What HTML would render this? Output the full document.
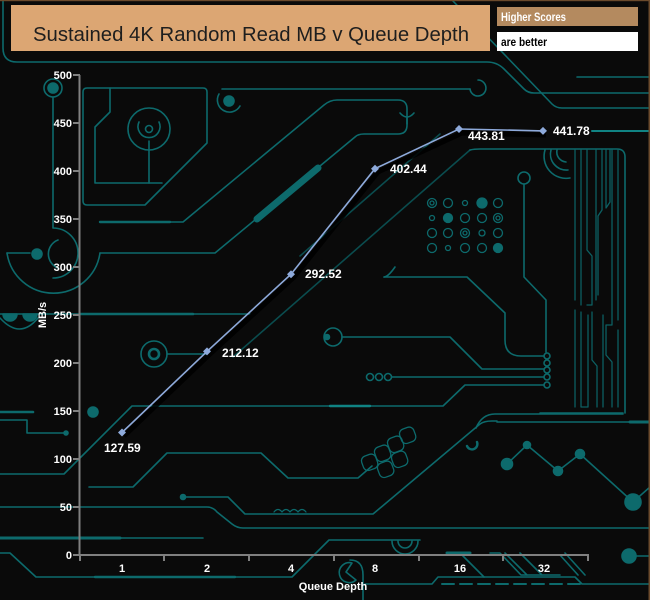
<!DOCTYPE html>
<html><head><meta charset="utf-8"><style>
html,body{margin:0;padding:0;background:#0a0a0a;}
svg{display:block;}
text{font-family:"Liberation Sans",Arial,sans-serif;}
</style></head><body>
<svg xmlns="http://www.w3.org/2000/svg" width="650" height="600" viewBox="0 0 650 600">
<rect width="650" height="600" fill="#0a0a0a"/>
<!-- circuit background -->
<g fill="none" stroke="#0d6a6c" stroke-width="1.6" stroke-linecap="round" stroke-linejoin="round">
 <path d="M3,0 V48 Q3,62 17,62 H487 Q497,62 504,69 L524,89 Q528,93 534,93 H650"/>
 <path d="M452,0 L552,104 Q556,108 562,108 H650"/>
 <path d="M577,77 H650"/>
 <path d="M592,131 H650" stroke="#108383" stroke-width="2"/>
 <!-- left column -->
 <circle cx="53" cy="88" r="9"/>
 <circle cx="53" cy="88" r="5" fill="#0d6a6c"/>
 <path d="M53,97 V228 A25,25 0 0 1 53,278"/>
 <path d="M58,240 A15,15 0 0 0 58,268"/>
 <circle cx="37" cy="254" r="5" fill="#0d6a6c"/>
 <path d="M7,253 A47,47 0 0 0 100,253"/>
 <path d="M7,253 H30"/>
 <path d="M100,253 H215 L355,137 Q358,134 364,134 H398 Q407,134 407,125 V109 Q407,100 398,100 H337 Q330,100 324,105 L183,222 H100"/>
 <path d="M100,222 H170" stroke-width="2.4"/>
 <path d="M257,219 L318,168" stroke-width="7"/>
 <path d="M400,113 Q407,121 414,113 M407,117 V124"/>
 <!-- rect with target -->
 <path d="M87,88 H203 Q207,88 207,92 V143 L145,205 H87 Q83,205 83,201 V92 Q83,88 87,88 Z"/>
 <path d="M110,88 V112 L95,127 V183 H162"/>
 <circle cx="149" cy="129" r="21"/>
 <path d="M139,122 A11,11 0 1 0 159,122"/>
 <circle cx="149" cy="129" r="3.5"/>
 <path d="M149,141 V183"/>
 <!-- icon & line y=89 -->
 <circle cx="229" cy="101" r="5" fill="#0d6a6c"/>
 <path d="M219,94 A12,12 0 1 0 240,106"/>
 <path d="M222,89 H470"/>
 <path d="M470,89 A8,8 0 1 0 478,80"/>
 <!-- left mid -->
 <path d="M0,314 H250"/>
 <path d="M80,314 H193" stroke-width="2.6"/>
 <path d="M3,314 A7,7 0 0 0 17,314 Z M23,314 A7,7 0 0 0 37,314 Z" fill="#0d6a6c"/>
 <path d="M0,318 Q20,340 38,318"/>
 <circle cx="154" cy="354" r="13"/>
 <circle cx="154" cy="354" r="5" stroke-width="2.6"/>
 <path d="M167,354 H207"/>
 <path d="M0,412 H33" stroke-width="2.6"/>
 <circle cx="93" cy="412" r="5" fill="#0d6a6c"/>
 <path d="M0,420 H27 V433 H65"/>
 <circle cx="66" cy="433" r="2" fill="#0d6a6c"/>
 <path d="M0,474 H64 L132,406 H443 L465,385 H544"/>
 <path d="M330,406 H370" stroke="#108383" stroke-width="2.4"/>
 <!-- diagonals -->
 <path d="M470,150 L233,357" stroke="#0a4c4e"/>
 <path d="M440,134 L300,256" stroke="#0a4c4e"/>
 <!-- mid traces to circle column -->
 <path d="M384,277 H467 L505,313 V340 Q505,356 521,356 H544"/>
 <path d="M395,267 Q388,277 384,277"/>
 <circle cx="524" cy="178" r="6"/>
 <path d="M524,184 V277 L546,300 V352"/>
 <circle cx="333" cy="337" r="9"/>
 <circle cx="327" cy="337" r="2.5" fill="#0d6a6c"/>
 <path d="M342,337 H450 L482,369 H544"/>
 <circle cx="370" cy="377" r="3.5"/><circle cx="379" cy="377" r="3.5"/><circle cx="388" cy="377" r="3.5"/>
 <path d="M392,377 H544"/>
 <circle cx="547" cy="356" r="3"/><circle cx="547" cy="363" r="3"/><circle cx="547" cy="370" r="3"/><circle cx="547" cy="377" r="3"/><circle cx="547" cy="385" r="3"/>
 <!-- dot matrix -->
 <g stroke-width="1.3">
  <circle cx="432" cy="203" r="4.5"/><circle cx="432" cy="203" r="2"/><circle cx="448" cy="203" r="4.5"/><circle cx="465" cy="203" r="2.5"/><circle cx="482" cy="203" r="5" fill="#0d6a6c"/><circle cx="498" cy="203" r="4.5"/>
  <circle cx="432" cy="218" r="2.5"/><circle cx="448" cy="218" r="4.5" fill="#0d6a6c"/><circle cx="465" cy="218" r="4.5"/><circle cx="482" cy="218" r="4.5"/><circle cx="498" cy="218" r="4.5"/><circle cx="498" cy="218" r="2"/>
  <circle cx="432" cy="233" r="4.5"/><circle cx="448" cy="233" r="4.5"/><circle cx="465" cy="233" r="4.5"/><circle cx="465" cy="233" r="2"/><circle cx="482" cy="233" r="3"/><circle cx="498" cy="233" r="4.5"/>
  <circle cx="432" cy="248" r="4.5"/><circle cx="448" cy="248" r="2.5"/><circle cx="465" cy="248" r="4.5"/><circle cx="482" cy="248" r="4.5"/><circle cx="498" cy="248" r="4.5" fill="#0d6a6c"/>
 </g>
 <!-- right vertical group -->
 <path d="M470,150 Q474,149 480,149 H617 Q625,149 625,157 V413"/>
 <path d="M545,150 A22,22 0 0 0 570,178 M551,150 A16,16 0 0 0 568,170 M557,150 A10,10 0 0 0 566,162"/>
 <g stroke="#0c5f62" stroke-width="1.3">
  <path d="M575,150 V300 M575,310 V407"/>
  <path d="M581,150 V305 M581,312 V407 H588 V315"/>
  <path d="M587,150 V250 L592,256 V305 H587 M592,312 V360 L597,366 V407"/>
  <path d="M596,150 V300 M602,150 V210 L598,216 V295 M603,315 V407"/>
  <path d="M606,150 V208 L610,202 V150 M612,150 V325 H606 V355 L612,362 V407"/>
  <path d="M618,150 V320 M618,330 V407"/>
 </g>
 <path d="M540,413 H623"/>
 <path d="M497,422 H650"/>
 <path d="M630,422 H650" stroke-width="3"/>
 <!-- lower traces -->
 <path d="M89,487 H133 L167,453 H261 L288,478 H358 L372,466"/>
 <g stroke-width="1.3">
  <rect x="362" y="455" width="15" height="15" rx="5" transform="rotate(-20 369 462)"/>
  <rect x="375" y="446" width="15" height="15" rx="5" transform="rotate(-20 382 453)"/>
  <rect x="388" y="437" width="15" height="15" rx="5" transform="rotate(-20 395 444)"/>
  <rect x="400" y="428" width="15" height="15" rx="5" transform="rotate(-20 407 435)"/>
  <rect x="378" y="462" width="15" height="15" rx="5" transform="rotate(-20 385 469)"/>
  <rect x="392" y="452" width="15" height="15" rx="5" transform="rotate(-20 399 459)"/>
 </g>
 <circle cx="183" cy="497" r="2.5" fill="#0d6a6c"/>
 <path d="M186,497 H228 L245,514 H373 L480,424 Q484,421 492,421 H497"/>
 <path d="M476,428 Q482,414 495,414 H623"/>
 <path d="M467,446 A5,5 0 0 0 477,442" stroke-width="2.4"/>
 <path d="M274,512 q4,-5 8,0 q4,-5 8,0 q4,-5 8,0 q4,-5 8,0" stroke-width="1.2"/>
 <path d="M0,507 H207 Q213,507 217,512 L232,524 Q237,528 243,528 H650"/>
 <path d="M0,538 H203"/>
 <path d="M0,538 H120" stroke-width="3"/>
 <path d="M0,553 H10 L36,577 H292 L329,540 H420"/>
 <path d="M95,577 H235" stroke-width="2.4"/>
 <path d="M392,541 A13,13 0 0 0 418,541 M398,541 A7,7 0 0 0 412,541"/>
 <path d="M350,560 Q363,560 363,575 V600"/>
 <path d="M352,563 A10,10 0 1 0 356,580 L346,572 Z"/>
 <path d="M365,584 H432 L438,577 H575 L582,584 H650"/>
 <path d="M442,584 H585" stroke-dasharray="12 6" stroke-width="2"/>
 <path d="M447,553 H470" stroke-width="3"/>
 <path d="M462,555 L484,577 M490,553 H500 L521,575 H560 M505,553 L527,575 M520,553 L542,575 M540,555 H560 L578,575 M565,553 L585,575"/>
 <!-- zigzag -->
 <path d="M507,464 L527,445 L558,471 L580,454 L633,502 L650,487"/>
 <circle cx="507" cy="464" r="5.5" fill="#0d6a6c"/>
 <circle cx="527" cy="445" r="3.5" fill="#0d6a6c"/>
 <circle cx="558" cy="471" r="4.5" fill="#0d6a6c"/>
 <circle cx="580" cy="454" r="4.5" fill="#0d6a6c"/>
 <circle cx="633" cy="502" r="8" fill="#0d6a6c"/>
 <circle cx="629" cy="556" r="7" fill="#0d6a6c"/>
 <path d="M636,556 H650"/>
</g>
<!-- border -->
<rect x="0" y="0" width="650" height="1.2" fill="#6b4a2c"/>
<rect x="648.5" y="0" width="1.5" height="600" fill="#6b4a2c"/>
<!-- title -->
<rect x="11" y="5" width="479" height="46" fill="#dca673"/>
<text x="33" y="41" font-size="20" fill="#1e1e1e" textLength="436" lengthAdjust="spacingAndGlyphs">Sustained 4K Random Read MB v Queue Depth</text>
<!-- legend -->
<rect x="497" y="7" width="141" height="19" fill="#b48a5f"/>
<text x="501" y="21" font-size="12" font-weight="bold" fill="#ffffff" textLength="65" lengthAdjust="spacingAndGlyphs">Higher Scores</text>
<rect x="497" y="32" width="141" height="19" fill="#ffffff"/>
<text x="501" y="46" font-size="12" font-weight="bold" fill="#000000" textLength="46" lengthAdjust="spacingAndGlyphs">are better</text>
<!-- axes -->
<g stroke="#808080" stroke-width="2" fill="none">
 <path d="M79.5,75 V556"/>
 <path d="M79,555 H589"/>
 <path d="M73,75 H80 M73,123 H80 M73,171 H80 M73,219 H80 M73,267 H80 M73,315 H80 M73,363 H80 M73,411 H80 M73,459 H80 M73,507 H80 M73,555 H80"/>
 <path d="M164,555 V561 M249,555 V561 M334,555 V561 M419,555 V561 M503,555 V561 M588,555 V561 M80,555 V561"/>
</g>
<g font-size="11" font-weight="bold" fill="#ffffff" text-anchor="end">
 <text x="72" y="79">500</text>
 <text x="72" y="127">450</text>
 <text x="72" y="175">400</text>
 <text x="72" y="223">350</text>
 <text x="72" y="271">300</text>
 <text x="72" y="319">250</text>
 <text x="72" y="367">200</text>
 <text x="72" y="415">150</text>
 <text x="72" y="463">100</text>
 <text x="72" y="511">50</text>
 <text x="72" y="559">0</text>
</g>
<g font-size="11" font-weight="bold" fill="#ffffff" text-anchor="middle">
 <text x="122" y="572">1</text>
 <text x="207" y="572">2</text>
 <text x="291" y="572">4</text>
 <text x="375" y="572">8</text>
 <text x="460" y="572">16</text>
 <text x="544" y="572">32</text>
 <text x="333" y="590">Queue Depth</text>
 <text x="0" y="0" transform="translate(46,315) rotate(-90)">MB/s</text>
</g>
<!-- data -->
<polyline points="124,436 209,355 294,277 378,172 462,133 546,135" fill="none" stroke="#000000" stroke-width="5" opacity="0.85"/>
<polyline points="122,432.5 207,351.4 291,274.2 375,168.7 459,129 543,130.9" fill="none" stroke="#8eaadb" stroke-width="1.6"/>
<g fill="#8eaadb">
 <path d="M122,428.5 L126,432.5 L122,436.5 L118,432.5 Z"/>
 <path d="M207,347.4 L211,351.4 L207,355.4 L203,351.4 Z"/>
 <path d="M291,270.2 L295,274.2 L291,278.2 L287,274.2 Z"/>
 <path d="M375,164.7 L379,168.7 L375,172.7 L371,168.7 Z"/>
 <path d="M459,125 L463,129 L459,133 L455,129 Z"/>
 <path d="M543,126.9 L547,130.9 L543,134.9 L539,130.9 Z"/>
</g>
<g font-size="12" font-weight="bold" fill="#ffffff">
 <text x="104" y="452">127.59</text>
 <text x="222" y="357">212.12</text>
 <text x="305" y="278">292.52</text>
 <text x="390" y="173">402.44</text>
 <text x="468" y="140">443.81</text>
 <text x="553" y="135">441.78</text>
</g>
</svg>
</body></html>
